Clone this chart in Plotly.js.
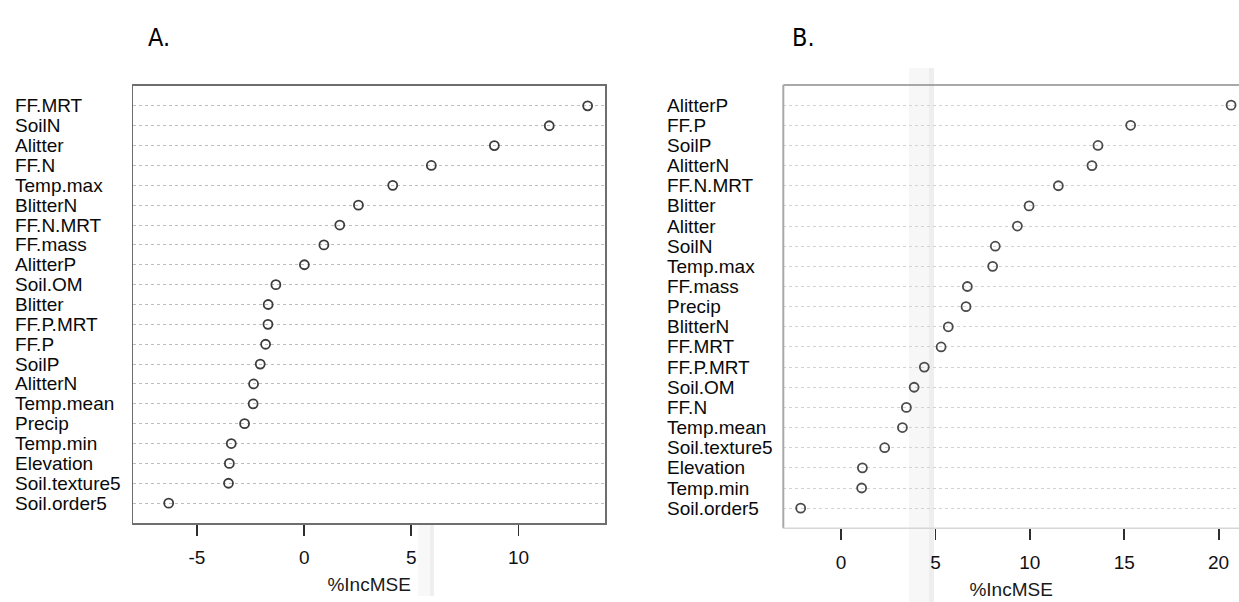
<!DOCTYPE html>
<html>
<head>
<meta charset="utf-8">
<script src="https://cdn.plot.ly/plotly-3.0.1.min.js"></script>
<style>
  html, body { margin: 0; padding: 0; background: #ffffff; overflow: hidden; }
  #chart { width: 1239px; height: 602px; }
</style>
</head>
<body>
<div id="chart"></div>
<script>
// Variable importance (%IncMSE) for two random-forest models, listed top to bottom
const varsA = ["FF.MRT", "SoilN", "Alitter", "FF.N", "Temp.max", "BlitterN", "FF.N.MRT",
  "FF.mass", "AlitterP", "Soil.OM", "Blitter", "FF.P.MRT", "FF.P", "SoilP", "AlitterN",
  "Temp.mean", "Precip", "Temp.min", "Elevation", "Soil.texture5", "Soil.order5"];
const incMseA = [13.22, 11.43, 8.87, 5.93, 4.13, 2.53, 1.66, 0.92, 0.01, -1.32, -1.68,
  -1.69, -1.80, -2.05, -2.36, -2.38, -2.78, -3.40, -3.49, -3.53, -6.32];

const varsB = ["AlitterP", "FF.P", "SoilP", "AlitterN", "FF.N.MRT", "Blitter", "Alitter",
  "SoilN", "Temp.max", "FF.mass", "Precip", "BlitterN", "FF.MRT", "FF.P.MRT", "Soil.OM",
  "FF.N", "Temp.mean", "Soil.texture5", "Elevation", "Temp.min", "Soil.order5"];
const incMseB = [20.66, 15.34, 13.61, 13.29, 11.51, 9.96, 9.34, 8.17, 8.03, 6.69, 6.62,
  5.68, 5.30, 4.41, 3.87, 3.46, 3.25, 2.31, 1.13, 1.09, -2.14];

const ticksA = [-5, 0, 5, 10];
const ticksB = [0, 5, 10, 15, 20];
const panelLabels = ["A.", "B."];
const axisTitle = "%IncMSE";

const W = 1239, H = 602;
const px = v => v / W;          // horizontal pixel -> paper fraction
const py = v => 1 - v / H;      // vertical pixel -> paper fraction

const textFont = "Liberation Sans, Arial, Helvetica, sans-serif";
const markerStyle = { symbol: "circle-open", size: 9, color: "#3c3c3c", line: { width: 1.8 } };

const traces = [
  { type: "scatter", mode: "markers", x: incMseA, y: varsA, xaxis: "x", yaxis: "y",
    marker: markerStyle, hoverinfo: "x+y", showlegend: false, cliponaxis: false },
  { type: "scatter", mode: "markers", x: incMseB, y: varsB, xaxis: "x2", yaxis: "y2",
    marker: Object.assign({}, markerStyle, { color: "#4a4a4a" }),
    hoverinfo: "x+y", showlegend: false, cliponaxis: false }
];

function xAxis(domain, range, ticks, extra) {
  return Object.assign({
    domain: domain, range: range, tickmode: "array", tickvals: ticks,
    ticktext: ticks.map(String),
    ticks: "outside", ticklen: 11, tickwidth: 1.8, tickcolor: "#2e2e2e",
    showgrid: false, zeroline: false, fixedrange: true,
    tickfont: { family: textFont, size: 19, color: "#111" },
    ticklabelstandoff: 6,
    title: { text: axisTitle, font: { family: textFont, size: 19, color: "#1a1a1a" }, standoff: 10 }
  }, extra);
}

function yAxis(domain, cats, gridColor, extra) {
  return Object.assign({
    domain: domain, type: "category", categoryorder: "array",
    categoryarray: cats.slice().reverse(), range: [-1, cats.length],
    showticklabels: false, ticks: "", zeroline: false, fixedrange: true,
    showgrid: true, gridcolor: gridColor, gridwidth: 1, griddash: "dot"
  }, extra);
}

const domA = { x: [px(133.3), px(605)], y: [py(523), py(86)] };
const domB = { x: [px(783.3), 1], y: [py(528.3), py(85)] };

// Category labels, left-aligned in a column to the left of each panel
const labelFont = { family: textFont, size: 19, color: "#0a0a0a" };
const annotations = [];
varsA.forEach(v => annotations.push({
  xref: "paper", yref: "y", x: px(13), y: v, text: v, showarrow: false,
  xanchor: "left", yanchor: "middle", font: labelFont
}));
varsB.forEach(v => annotations.push({
  xref: "paper", yref: "y2", x: px(665), y: v, text: v, showarrow: false,
  xanchor: "left", yanchor: "middle", font: labelFont
}));
const headFont = { family: "Liberation Sans Narrow, DejaVu Sans Condensed, Arial Narrow, sans-serif", size: 25, color: "#000" };
annotations.push({
  xref: "paper", yref: "paper", x: px(146), y: py(38), text: panelLabels[0], showarrow: false,
  xanchor: "left", yanchor: "middle", font: headFont
});
annotations.push({
  xref: "paper", yref: "paper", x: px(790), y: py(38), text: panelLabels[1], showarrow: false,
  xanchor: "left", yanchor: "middle", font: headFont
});

const shapes = [
  // faint vertical shading strips
  { type: "rect", xref: "paper", yref: "paper", layer: "below", line: { width: 0 },
    x0: px(909), x1: px(930), y0: 0, y1: py(68), fillcolor: "#f7f7f7" },
  { type: "rect", xref: "paper", yref: "paper", layer: "below", line: { width: 0 },
    x0: px(929), x1: px(934), y0: 0, y1: py(68), fillcolor: "#eeeeee" },
  { type: "rect", xref: "paper", yref: "paper", layer: "below", line: { width: 0 },
    x0: px(418), x1: px(431), y0: py(596), y1: py(524), fillcolor: "#f8f8f8" },
  { type: "rect", xref: "paper", yref: "paper", layer: "below", line: { width: 0 },
    x0: px(430), x1: px(434), y0: py(596), y1: py(524), fillcolor: "#efefef" },
  // frame of panel B (open on the right)
  { type: "line", xref: "x2 domain", yref: "y2 domain", x0: 0, x1: 1, y0: 1, y1: 1,
    line: { color: "#8c8c8c", width: 1.6 } },
  { type: "line", xref: "x2 domain", yref: "y2 domain", x0: 0, x1: 0, y0: 0, y1: 1,
    line: { color: "#a8a8a8", width: 2 } },
  { type: "line", xref: "x2 domain", yref: "y2 domain", x0: 0, x1: 1, y0: 0, y1: 0,
    line: { color: "#d6d6d6", width: 1.6 } }
];

const layout = {
  width: W, height: H,
  margin: { l: 0, r: 0, t: 0, b: 0 },
  paper_bgcolor: "#ffffff", plot_bgcolor: "rgba(0,0,0,0)",
  showlegend: false,
  font: { family: textFont, color: "#1e1e1e" },
  xaxis: xAxis(domA.x, [-7.97, 14.03], ticksA,
    { anchor: "y", showline: true, mirror: true, linecolor: "#6e6e6e", linewidth: 1.6 }),
  yaxis: yAxis(domA.y, varsA, "#bdbdbd",
    { anchor: "x", showline: true, mirror: true, linecolor: "#6e6e6e", linewidth: 1.6 }),
  xaxis2: xAxis(domB.x, [-3.06, 21.08], ticksB, { anchor: "y2", showline: false }),
  yaxis2: yAxis(domB.y, varsB, "#d2d2d2", { anchor: "x2", showline: false }),
  annotations: annotations,
  shapes: shapes
};

Plotly.newPlot("chart", traces, layout, { displayModeBar: false, staticPlot: true });
</script>
</body>
</html>
